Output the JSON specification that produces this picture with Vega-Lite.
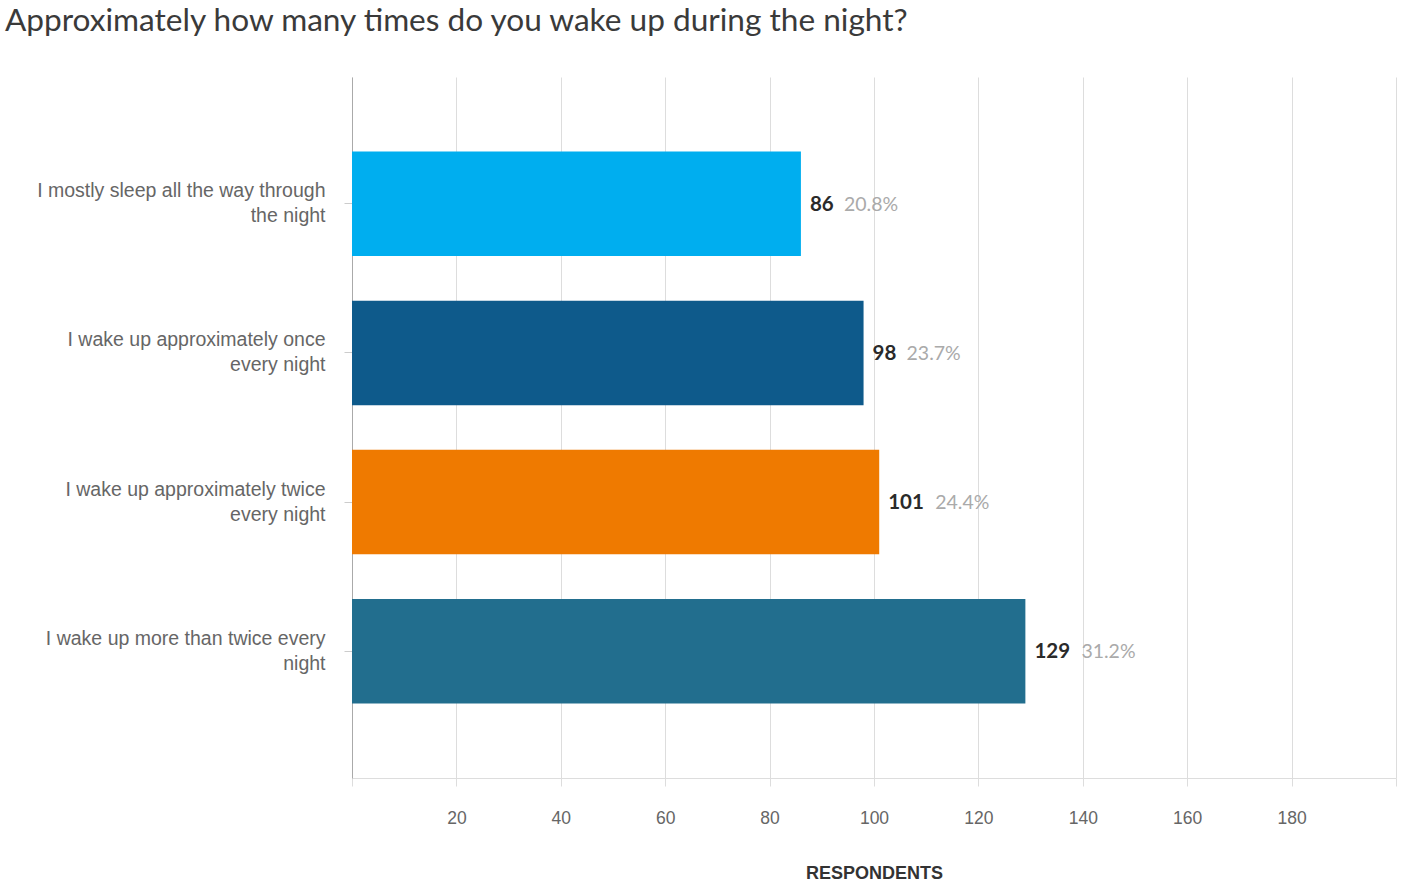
{
  "$schema": "https://vega.github.io/schema/vega-lite/v6.json",
  "autosize": {"type": "none"},
  "width": 1044,
  "height": 701,
  "padding": {"left": 352, "top": 77, "right": 23, "bottom": 114},
  "background": "white",
  "config": {"view": {"stroke": null}},
  "title": {
    "text": "Approximately how many times do you wake up during the night?",
    "anchor": "start",
    "frame": "group",
    "dx": -347,
    "offset": 39,
    "font": "Lato",
    "fontSize": 31.6,
    "fontWeight": "normal",
    "color": "#3a3a3a"
  },
  "data": {
    "values": [
      {"answer": "I mostly sleep all the way through the night", "count": 86, "pct": "20.8%"},
      {"answer": "I wake up approximately once every night", "count": 98, "pct": "23.7%"},
      {"answer": "I wake up approximately twice every night", "count": 101, "pct": "24.4%"},
      {"answer": "I wake up more than twice every night", "count": 129, "pct": "31.2%"}
    ]
  },
  "encoding": {
    "y": {
      "field": "answer",
      "type": "nominal",
      "sort": null,
      "scale": {"paddingInner": 0.3, "paddingOuter": 0.5},
      "axis": {
        "title": null,
        "domainColor": "#aaaaaa",
        "tickColor": "#cccccc",
        "tickSize": 8,
        "labelFont": "Liberation Sans",
        "labelFontSize": 19.5,
        "labelColor": "#666666",
        "labelPadding": 19,
        "labelLineHeight": 25,
        "labelOffset": -12.5,
        "labelLimit": 400,
        "labelExpr": "datum.value == 'I mostly sleep all the way through the night' ? ['I mostly sleep all the way through', 'the night'] : datum.value == 'I wake up approximately once every night' ? ['I wake up approximately once', 'every night'] : datum.value == 'I wake up approximately twice every night' ? ['I wake up approximately twice', 'every night'] : ['I wake up more than twice every', 'night']"
      }
    },
    "x": {
      "field": "count",
      "type": "quantitative",
      "scale": {"domain": [0, 200], "nice": false},
      "axis": {
        "values": [0, 20, 40, 60, 80, 100, 120, 140, 160, 180, 200],
        "labelExpr": "datum.value == 0 || datum.value == 200 ? '' : datum.label",
        "grid": true,
        "gridColor": "#dddddd",
        "domainColor": "#dddddd",
        "tickColor": "#dddddd",
        "tickSize": 8,
        "labelFont": "Liberation Sans",
        "labelFontSize": 17.5,
        "labelColor": "#666666",
        "labelPadding": 23,
        "title": "RESPONDENTS",
        "titleFont": "Liberation Sans",
        "titleFontSize": 18,
        "titleFontWeight": "bold",
        "titleColor": "#333333",
        "titlePadding": 38
      }
    }
  },
  "layer": [
    {
      "mark": {"type": "bar"},
      "encoding": {
        "color": {
          "field": "answer",
          "type": "nominal",
          "sort": null,
          "legend": null,
          "scale": {"range": ["#00aeef", "#0e5a8b", "#ef7a00", "#226e8e"]}
        }
      }
    },
    {
      "mark": {"type": "text", "align": "left", "baseline": "middle", "dx": 9, "dy": 1, "font": "Lato", "fontSize": 20.5, "fontWeight": "bold", "color": "#2a2a2a"},
      "encoding": {"text": {"field": "count", "type": "quantitative"}}
    },
    {
      "mark": {"type": "text", "align": "left", "baseline": "middle", "dx": {"expr": "datum.count >= 100 ? 56 : 43"}, "dy": 1, "font": "Lato", "fontSize": 19.5, "color": "#aaaaaa"},
      "encoding": {"text": {"field": "pct", "type": "nominal"}}
    }
  ]
}
